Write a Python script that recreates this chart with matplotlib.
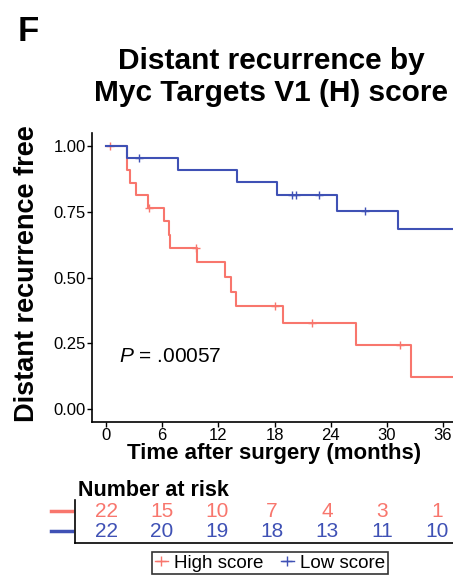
import matplotlib
matplotlib.use("Agg")
import matplotlib.pyplot as plt
from matplotlib.lines import Line2D
import numpy as np

plt.rcParams['font.family'] = ['Liberation Sans', 'DejaVu Sans']
plt.rcParams['mathtext.fontset'] = 'custom'
plt.rcParams['mathtext.rm'] = 'Liberation Sans'
plt.rcParams['mathtext.it'] = 'Liberation Sans:italic'

# Kaplan-Meier steps (months, survival)
high_times = [0, 2.2, 2.6, 3.2, 4.5, 6.2, 6.7, 6.85, 9.75, 12.7, 13.4, 13.9, 18.9, 26.7, 32.6]
high_surv = [1.0, 0.909, 0.861, 0.813, 0.763, 0.716, 0.663, 0.612, 0.558, 0.503, 0.444, 0.390, 0.328, 0.244, 0.122]
high_censor = [0.4, 4.6, 9.6, 18.1, 22.0, 31.4]

low_times = [0, 2.2, 7.65, 14.0, 18.3, 24.7, 31.2]
low_surv = [1.0, 0.955, 0.909, 0.862, 0.813, 0.754, 0.684]
low_censor = [3.5, 19.9, 20.3, 22.7, 27.7]

follow_up_end = 38

risk_times = [0, 6, 12, 18, 24, 30, 36]
risk_high = [22, 15, 10, 7, 4, 3, 1]
risk_low = [22, 20, 19, 18, 13, 11, 10]

red = '#F8766D'
blue = '#3F51B5'


def surv_at(times, surv, t):
    idx = np.searchsorted(times, t, side='right') - 1
    return np.array(surv)[idx]


fig = plt.figure(figsize=(4.53, 5.76), dpi=100)

ax = fig.add_axes([92 / 453, 1 - 422 / 576, 1 - 92 / 453, (422 - 133) / 576])
for times, surv, cens, col in [(high_times, high_surv, high_censor, red),
                               (low_times, low_surv, low_censor, blue)]:
    ax.step(times + [follow_up_end], surv + [surv[-1]], where='post', color=col, lw=1.5)
    ax.plot(cens, surv_at(times, surv, cens), ls='none', marker='+', color=col,
            markersize=6, mew=1)

ax.set_xlim(-1.5, 37.07)
ax.set_ylim(-0.05, 1.05)
ax.set_xticks(risk_times)
ax.set_yticks([0, 0.25, 0.5, 0.75, 1.0])
ax.set_yticklabels(['0.00', '0.25', '0.50', '0.75', '1.00'])
ax.tick_params(labelsize=12, length=3.5, width=1, pad=1, colors='black')
for s in ['top', 'right']:
    ax.spines[s].set_visible(False)
for s in ['left', 'bottom']:
    ax.spines[s].set_linewidth(1.2)
ax.text(1.4, 0.2, r'$\it{P}$ = .00057', fontsize=15, va='center', ha='left')

# number at risk table
rax = fig.add_axes([75 / 453, 1 - 543 / 576, 1 - 75 / 453, (543 - 500) / 576])
rax.set_xlim(-3.43, 37.74)
rax.set_ylim(0, 1)
rax.set_xticks([])
rax.set_yticks([])
for s in ['top', 'right']:
    rax.spines[s].set_visible(False)
for s in ['left', 'bottom']:
    rax.spines[s].set_linewidth(1.2)
for vals, yy, col in [(risk_high, 0.74, red), (risk_low, 0.27, blue)]:
    for t, v in zip(risk_times, vals):
        rax.text(t, yy, str(v), color=col, fontsize=15, ha='center', va='center')
    rax.plot([-6.0, -3.8], [yy, yy], color=col, lw=2.5, clip_on=False)

fig.text(78 / 453, 1 - 490 / 576, 'Number at risk', fontsize=15.5, fontweight='bold',
         ha='left', va='center')

# titles and labels
fig.text(0.038, 1 - 15 / 576, 'F', fontsize=25, fontweight='bold', va='top', ha='left')
fig.text(271 / 453, 1 - 77 / 576, 'Distant recurrence by\nMyc Targets V1 (H) score',
         fontsize=21.5, fontweight='bold', ha='center', va='center', linespacing=1.2)
fig.text(27 / 453, 1 - 274 / 576, 'Distant recurrence free', fontsize=19.5,
         fontweight='bold', rotation=90, ha='center', va='center')
fig.text(274 / 453, 1 - 454 / 576, 'Time after surgery (months)', fontsize=16,
         fontweight='bold', ha='center', va='center')

handles = [Line2D([], [], color=red, marker='+', lw=1, markersize=7),
           Line2D([], [], color=blue, marker='+', lw=1, markersize=7)]
leg = fig.legend(handles, ['High score', 'Low score'], loc='center',
                 bbox_to_anchor=(270 / 453, 1 - 563 / 576), ncol=2, fontsize=13.5,
                 frameon=True, fancybox=False, handlelength=0.7, handletextpad=0.35,
                 columnspacing=0.9, borderpad=0.15, borderaxespad=0)
leg.get_frame().set_edgecolor('black')
leg.get_frame().set_linewidth(1.2)

fig.savefig('out.png', dpi=100)
